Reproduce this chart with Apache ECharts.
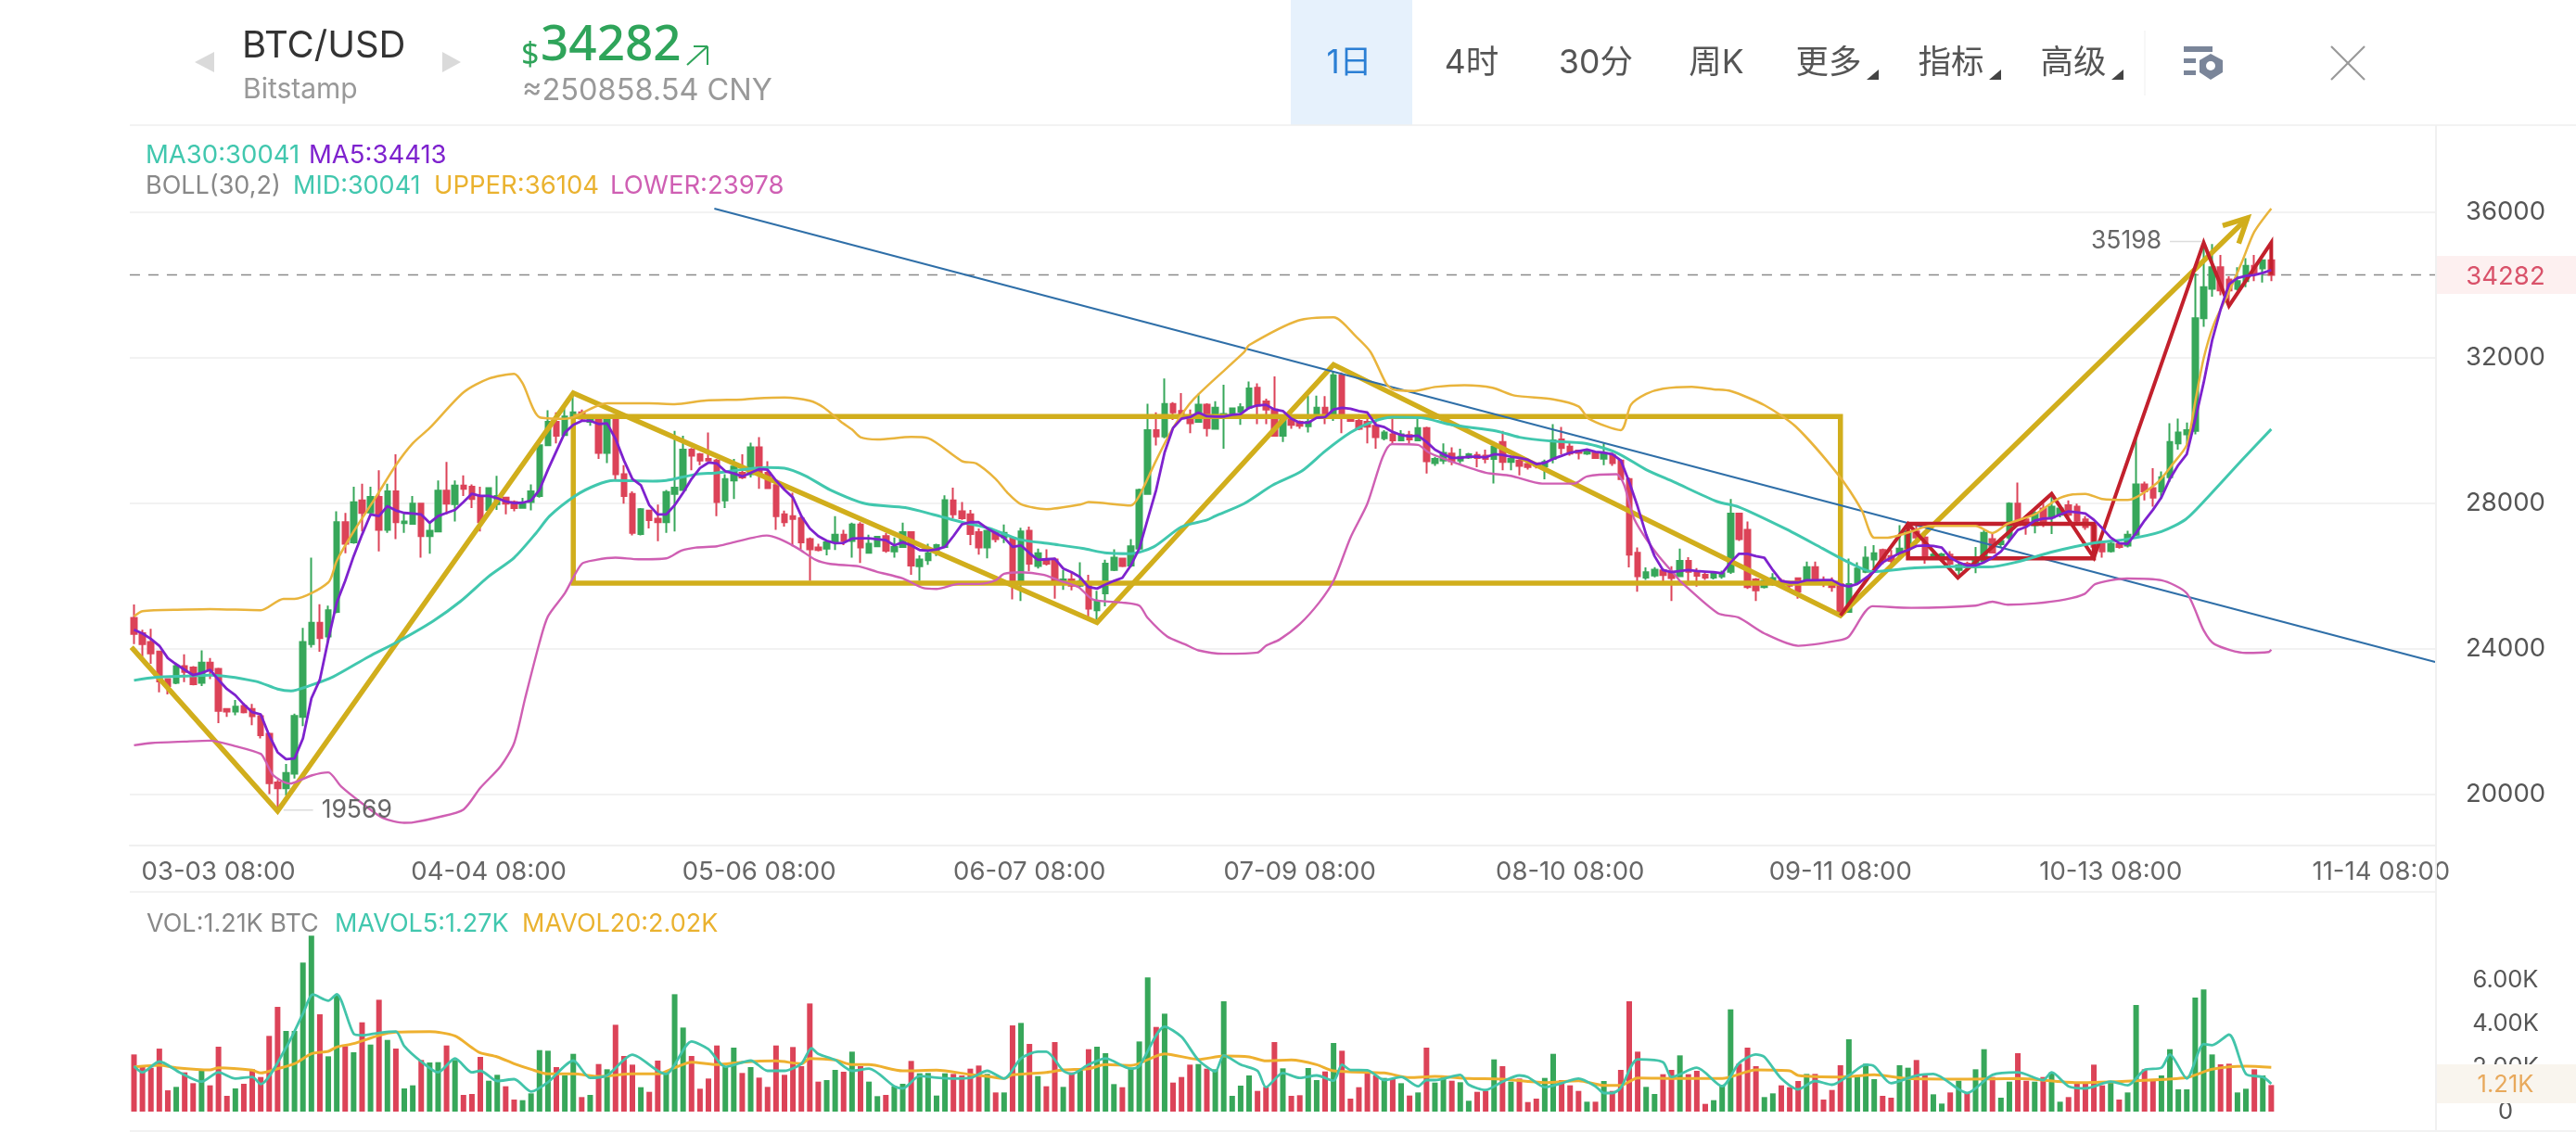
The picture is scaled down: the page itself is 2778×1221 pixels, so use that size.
<!DOCTYPE html>
<html><head><meta charset="utf-8">
<style>html,body{margin:0;padding:0;background:#fff}#c{width:2778px;height:1221px}</style>
<script src="https://cdn.jsdelivr.net/npm/echarts@6/dist/echarts.min.js"></script>
</head><body><div id="c"></div>
<script>
const tickIdx=[10,42,74,106,138,170,202,234,266];
const tickText=['03-03 08:00','04-04 08:00','05-06 08:00','06-07 08:00','07-09 08:00','08-10 08:00','09-11 08:00','10-13 08:00','11-14 08:00'];
const slotCount=273;
const priceTicks=[20000,24000,28000,32000,36000];
const volTicks=[0,2000,4000,6000];

const opens=[24850,24430,24190,23930,23170,23070,23530,23490,23070,23620,23450,22350,22280,22430,22350,22150,21670,20330,20170,20570,22130,24130,24720,24340,25020,27480,26930,28080,27750,28180,27270,28330,27460,27440,27990,27100,27230,28350,27980,28490,28460,28200,27820,27980,28160,28040,27880,28040,28200,29600,30240,29880,30370,30500,30240,30330,29390,30330,28800,28260,27160,27800,27580,27480,28260,28370,29480,29350,29220,29180,28080,28630,28840,28800,29540,28840,28500,27700,27650,27590,27020,26790,26760,26930,27140,26970,27420,26640,26820,27100,26680,26800,27210,26270,26440,26720,26800,28080,27780,27700,27210,26790,27190,27060,27030,25870,27250,26280,26460,26460,25790,25910,25740,25790,25060,25530,26170,26480,26290,26760,28260,30010,29840,30730,30540,30410,30240,30710,30050,30370,30410,30520,30630,31180,30800,30580,29860,30330,30240,30120,30410,30630,30410,31520,30350,30270,30240,30130,29790,29900,29730,29880,29730,30070,29110,29180,29370,29180,29260,29330,29310,29220,29690,29140,29180,29080,29100,29010,29220,29760,29560,29450,29370,29390,29230,29330,29180,28670,26640,25960,26020,26160,26120,26000,26420,26140,26040,25960,25990,26120,27720,27270,25910,25700,25790,25870,25830,25940,25830,26250,25870,25830,25780,25020,25830,26120,26460,26720,26550,26590,26760,27230,27060,26500,26480,26590,26170,26340,26250,26420,27020,26880,27060,27990,27560,27400,27860,27610,27690,27950,27910,27560,27400,26890,26690,26880,26840,27140,28520,28420,28330,28720,29650,29900,29990,33090,33900,34490,34150,33900,34110,34530,34460,34680];
const closes=[24410,24130,23880,23110,22980,23530,23370,23030,23620,23410,22300,22280,22410,22260,22150,21630,20310,20170,20590,22160,24190,24720,24300,25060,27480,26890,28030,27740,28180,27270,28330,27480,27500,27990,27100,27250,28350,27990,28490,28400,28120,27480,28420,28200,27990,27870,27990,28330,29600,30240,29860,30390,30500,30330,30370,29390,30330,28800,28200,27190,27840,27540,27480,28310,28430,29480,29310,29180,29180,28040,28670,29010,28710,29540,28840,28420,27650,27480,27570,26930,26740,26720,26930,27140,26970,27420,26790,26890,27080,26700,26800,27210,26290,26460,26630,26850,28090,27700,27590,27160,26790,27250,27020,27190,25870,27230,26340,26630,26340,25870,25910,25740,25850,25110,25320,26340,26510,26280,26820,28370,30010,29840,30730,30500,30410,30200,30710,30070,30630,30460,30610,30640,31160,30690,30580,29860,30330,30160,30130,30240,30630,30410,31520,30410,30270,30050,30110,29820,29950,29730,29900,29760,30070,29160,29220,29390,29160,29280,29350,29250,29220,29560,29140,29220,29030,29000,29030,29140,29730,29520,29370,29390,29450,29250,29390,29110,28670,26590,26000,26110,26180,26030,25950,26420,26120,26010,25960,26090,26080,27720,27020,25700,25610,25870,25950,25790,25740,25570,26250,25830,25780,25700,25020,25780,26210,26510,26630,26460,26420,26760,27230,27060,26550,26590,26600,26340,26300,26250,26450,27190,26650,26970,27990,27400,27400,27730,27440,27910,27860,27690,27520,27350,26810,26680,26890,26800,27140,28520,28330,28160,28720,29690,29950,30010,33090,33940,34490,33850,33850,34110,34530,34320,34680,34282];
const lows=[24130,23790,23590,22810,22750,23030,23090,23000,22980,23170,21960,22130,22180,22230,21900,21540,20010,19569,19970,20440,21880,24040,23920,24170,24980,26630,26890,27230,27650,26680,27190,27020,27190,27420,26510,26620,27210,27700,27500,28200,27870,27230,27780,27820,27700,27780,27860,27810,28160,29590,29650,29860,30330,30280,30130,29220,29110,28660,27990,27120,27120,27310,26960,27190,27230,28370,28910,29050,29180,27650,27870,28120,28670,28710,28400,28420,27270,27360,26820,26740,25870,26680,26570,26720,26850,26510,26360,26630,26800,26640,26510,26780,26040,25870,26310,26550,26790,27590,27550,26850,26590,26490,26930,26910,25360,25320,26130,26210,26290,25380,25620,25610,25700,24890,24810,25170,26140,26250,26250,26730,28250,29590,29790,30290,30290,29930,30220,29840,30030,29500,30390,30160,30580,30180,30180,29840,29690,30050,30050,29950,30370,30180,30270,29930,30240,30010,29650,29500,29730,29650,29710,29620,29720,28820,29030,29080,29050,29100,29220,28990,29100,28550,28910,28910,28770,28930,28960,28660,29100,29350,29310,29210,29330,29220,29050,29030,28670,26240,25570,25900,25970,25800,25320,25980,25780,25710,25900,25910,25930,26060,26970,25650,25320,25660,25740,25720,25570,25380,25780,25780,25700,25570,24980,24990,25780,26080,26210,26330,26340,26560,26720,26890,26340,26460,26400,26170,26040,26190,26080,26380,26630,26800,26930,27380,27140,27180,27350,27160,27620,27610,27400,27270,26800,26510,26650,26760,26790,27100,28080,27910,28120,28590,29480,29610,29900,32850,33680,33720,33550,33850,33940,34110,34070,34110];
const highs=[25220,24530,24550,23950,23170,23620,23850,23530,23960,23750,23480,22370,22600,22520,22490,22220,21700,20400,20840,22220,24580,26510,25230,25190,27780,27740,28460,28540,28460,28910,28540,29350,27720,28200,28010,27510,28630,29140,28630,28770,28520,28460,28430,28760,28180,28080,28150,28520,29610,30560,30500,30670,31030,30580,30390,30350,30370,30370,29050,28330,27870,27820,27970,28370,29990,29860,29520,29390,29950,29220,28800,29220,29350,29670,29820,29160,28540,27800,28290,27650,27060,26890,26930,27650,27270,27470,27480,27140,27100,27190,27060,27470,27230,26570,26890,26890,28220,28430,28040,27820,27310,27270,27270,27420,27060,27330,27360,26760,26740,26510,26170,26120,26380,26040,25600,26450,26740,26510,27020,28410,30740,30500,31430,30780,31030,30580,31010,30750,30810,31260,30620,30750,31350,31300,30880,31490,30370,30370,30280,30960,30960,30950,31630,31600,30410,30450,30450,30240,30010,30330,30010,29990,30330,30110,29280,29650,29540,29500,29390,29420,29480,29690,29990,29310,29220,29220,29120,29200,30180,30100,29680,29480,29500,29420,29650,29390,29220,28710,26790,26240,26250,26210,26270,26760,26520,26220,26090,26130,26150,28120,27740,27500,25950,25990,26080,25940,25870,25960,26400,26400,25990,25970,25950,26480,26380,26820,26850,26760,26720,27400,27440,27400,27160,26680,26640,26690,26380,26400,26800,27270,27190,27060,28030,28570,27650,27780,27990,28200,27950,28080,27990,27650,27450,26930,26930,26920,27250,29780,28600,28970,28880,30200,30330,30220,34320,35198,35130,34830,34240,34490,34740,34830,34700,34720];

const ma5=[24528,24426,24274,24087,23747,23578,23425,23280,23340,23425,23153,22898,22728,22474,22261,22202,21625,21158,20971,20988,21540,22643,23153,24257,25275,25870,26549,27143,27695,27653,27924,27805,27738,27721,27695,27466,27653,27738,27822,28035,28264,28205,28205,28145,28052,28009,28018,28077,28374,28926,29436,29945,30157,30268,30268,30183,30200,29775,29181,28672,28502,27950,27695,27695,27950,28290,28672,28969,29121,29096,28884,28824,28740,28841,28943,28926,28629,28374,28162,27652,27313,27101,26973,26905,26914,27033,27041,27041,27016,26990,26846,26931,26846,26719,26702,26736,26804,27101,27424,27483,27483,27313,27186,27059,26804,26846,26634,26447,26464,26481,26209,26108,25972,25700,25658,25768,25870,25955,26294,26761,27568,28374,29400,30072,30327,30370,30497,30396,30387,30387,30438,30455,30625,30693,30710,30582,30540,30328,30217,30217,30353,30370,30582,30625,30599,30540,30497,30158,30098,29963,29878,29844,29861,29691,29479,29351,29250,29250,29283,29283,29266,29351,29334,29283,29250,29198,29080,29114,29224,29309,29394,29436,29479,29419,29394,29351,29182,28587,27908,27144,26550,26167,26108,26142,26167,26142,26125,26108,26081,26378,26616,26616,26548,26506,26166,25869,25827,25827,25886,25886,25894,25894,25767,25716,25784,25954,26124,26378,26506,26633,26718,26828,26845,26828,26786,26506,26378,26293,26293,26378,26506,26675,26973,27270,27355,27525,27584,27592,27694,27779,27754,27720,27550,27315,27060,26908,26890,27188,27527,27825,28164,28674,29056,29353,30300,31320,32480,33330,34022,34192,34250,34277,34336,34413];

const upperAt=[0,1,6,9,15,17.7,19,23,24,26,28.6,31,33,35,39,42,45,46,48,51,52,56,61,64,67.7,72,73.6,77,80,81.6,83.7,85,86,88,92,94,98,99.7,102,103.4,105,108,112,113,118,119,121,123,125.5,131.4,132,137.8,142,144.7,146.4,148.2,149,151.6,154,157.5,160.8,163.4,168,171,172.2,176,177.2,179,181,184.4,187,189,193,196.7,201.7,204.5,206,207.6,210.4,212.6,218,220,221.8,225,227.7,229.5,231,233,236,239.4,241.4,243,244,245,246.2,247.9,249.5,251,253];
const upperVal=[24893,25038,25080,25097,25063,25377,25377,25827,26420,27228,28160,29050,29650,30070,31050,31430,31560,31300,30370,30327,30370,30750,30750,30726,30828,30853,30887,30913,30820,30641,30242,30030,29818,29758,29826,29792,29164,29096,28672,28290,27975,27840,27967,28035,27941,28205,29181,30072,30880,32153,32349,33025,33115,32575,32153,31304,31134,31090,31200,31245,31177,30964,30862,30667,30328,30014,30710,31007,31151,31202,31134,31087,30700,30114,28798,27822,27058,27058,27227,27380,27380,27185,27440,27694,28119,28246,28263,28119,28093,28546,29098,29607,30796,31985,32918,33767,34617,35466,36104];
const lowerAt=[0,2,6,9,12,15,15.6,16.5,18.4,21,23,24.5,27,29.5,32,33,36,39,41,43.4,45,46.3,48,49,51,53,54.7,57,59.7,63,64.8,66.5,69,70.7,74.9,76.5,78.6,80.7,82.4,85.8,87.9,91,93.4,95,97.6,100,102,103,105,107.6,109.7,111.8,113.5,116.9,119,120,122.3,124.4,126,129,133,134,135.6,138,140.3,142,144,146,147.8,148.9,152,153.3,156.6,160,163,166.7,170.5,172,175.5,176.4,177.6,180.2,182.7,183,187.5,189.9,193,197,201.7,203,205.8,210.4,218,220,221.8,225,228.6,230.9,232.2,235.9,240,243,245,246.3,250,252.7,253];
const lowerVal=[21353,21413,21455,21480,21328,21115,20903,20521,20300,20521,20606,20224,19757,19350,19222,19231,19375,19587,20182,20776,21413,22643,24172,24893,25530,26337,26447,26507,26464,26490,26702,26787,26821,26914,27118,27016,26761,26447,26337,26269,26125,25938,25675,25649,25785,25785,25887,26065,26108,26040,25870,25700,25360,25276,25190,24851,24342,24129,23960,23867,23900,24088,24257,24682,25276,25870,27059,27993,29266,29631,29606,29394,29097,28842,28757,28545,28545,28740,28800,28502,27568,26635,25955,25869,24980,24867,24426,24086,24230,24341,25173,25130,25190,25300,25215,25250,25360,25512,25784,25937,25886,25530,24511,24129,23891,23916,23978];
const midAt=[0,2.6,6,9,14.4,17,18.6,20.7,23.6,27.8,31,35.4,38.7,42,45,47.6,49.2,52.2,54.7,56.8,61.4,63,66.5,69,71.9,74.9,77,79.5,82.4,86.6,91.3,94.6,98,101.3,104.7,108.5,112.3,115.2,118,120.7,124,127,128,131.4,134.8,138.2,141,144,146.6,149,152.4,156,161.3,164,167.6,171.8,175.5,179,182.3,187.4,189.9,195.4,199.9,203,205.8,210.8,215.8,219.5,222.7,227.2,231.8,235.9,240,242.9,245.8,249.5,253];
const midVal=[23136,23221,23255,23280,23110,22898,22847,22983,23238,23790,24172,24766,25318,25997,26507,27186,27653,28204,28502,28629,28612,28629,28799,28841,28926,28986,28969,28756,28374,27992,27882,27695,27483,27313,27016,26889,26761,26634,26617,26804,27356,27542,27653,27993,28502,28884,29436,29946,30243,30370,30353,30158,29988,29818,29716,29648,29394,28927,28587,28050,27907,27312,26760,26378,26124,26226,26268,26251,26378,26675,26905,27015,27227,27567,28249,29183,30041];

const vols=[2605,2040,2000,2870,970,1126,1788,1295,1858,1197,2957,718,1056,1267,1929,1577,3450,4773,3675,3675,6787,8012,4435,2520,5308,2985,2703,4069,3055,5097,3267,2872,1056,1197,2351,2239,2253,3013,2351,760,803,2492,1408,1676,1155,549,521,831,2802,2774,2028,1647,2633,662,760,2168,1929,3957,2534,2140,1112,901,2323,1816,5350,3830,2534,1042,1507,3013,2042,2915,1760,2028,1549,1126,3013,1676,2943,2070,4928,1366,1436,1901,1816,2732,2070,1366,704,760,1155,1267,2309,1746,1760,732,1746,1718,1647,1957,2098,1718,873,873,3928,4041,3084,1619,1155,3168,1126,1788,1929,2844,2957,2661,1253,1112,2000,3196,6111,3858,4463,1323,1577,2140,2168,1957,1929,5027,718,1183,1647,943,1126,3168,1971,718,746,1985,1436,1830,3126,2774,591,1112,1760,1647,1535,1478,1295,732,873,2915,1323,1577,1408,1338,493,901,943,2380,2070,1366,1507,436,591,1535,2633,1436,1197,943,451,451,1394,943,1901,5027,2732,1126,803,1704,1901,2563,1704,1859,352,521,1225,4660,2182,2915,2070,662,831,1197,1112,1394,1718,1718,549,986,2112,3295,1647,2182,1478,718,634,2112,2000,2351,1647,788,366,873,1408,873,1929,2844,1577,634,1366,2661,1408,1366,1577,1788,451,662,1295,1267,2140,1197,1366,549,873,4858,1929,1478,1647,2844,1014,1014,5196,5562,2605,2154,2182,873,1042,1929,1647,1210];
const mavol5At=[0,1,3,5.4,8,10,12,14,15,18,20,21.2,23,24,26,27,29,31,32,34,36,38,40,41,43,45,47,49,52,54,56,59,62,63,66,68,70,73,75,77,79,80.2,81,83,85,87,90,91,93,95,97,99,101,103,105,107,108,110,111,113,115,118,119,122,124,126,128,129,131,133,134,136,138,140,142,143,144,146,148,150,152,153,154,157,158,160,162,164,165,167,169,171,173,174,175,176,178,181,182,185,188,190,192,193,195,197,199,201,203,205,206,208,211,213,216,217,220,223,226,227,229,231,234,236,238,240,241,243,245,246,248,250,252,253];
const mavol5Val=[2070,1788,2281,1788,1366,1788,1507,1577,1253,2915,4463,5336,5055,5350,3548,3478,3590,3647,2985,2281,1788,2422,1788,1859,1394,1478,915,1338,2323,1535,1647,2591,1859,1718,3196,2844,2042,2323,1859,1859,2182,2886,2633,2351,1859,1957,1155,1056,1619,1549,1507,1535,1859,1507,2422,2732,2732,1859,1718,2140,2422,1957,2070,3872,3407,2351,1830,2563,2140,1859,1112,1760,1535,1647,1408,2140,1900,1887,1436,1577,1155,1436,1436,1675,1225,986,1366,1647,1577,1112,1295,1507,1155,845,845,1084,2380,2253,1577,2000,1155,2210,2605,2492,1507,1014,1394,1225,1647,2140,2070,1295,1647,1718,1014,845,1675,1788,1436,1788,1155,1056,1366,1197,1900,2000,2605,1507,3083,3027,3506,1718,1577,1270];
const mavol20At=[0,3,5,9,10,14,15,17,19,21,23,24,26,29,31,35,38,40,41,43,45,47,49,52,55,59,62,64,66,69,72,76,79,80,83,85,87,91,95,99,101,103,104,108,110,113,115,118,122,126,129,132,134,137,140,142,148,151,154,158,162,167,171,174,176,178,183,188,192,196,197,202,206,210,217,223,230,237,243,246,250,253];
const mavol20Val=[2042,2112,1999,1901,2000,1887,1760,1957,2182,2633,2746,2943,3098,3478,3619,3647,3450,2915,2675,2492,2182,1929,1718,1718,1605,1718,1718,2000,2253,2140,2253,2309,2182,2422,2351,2140,2140,1859,1887,1690,1605,1507,1675,1788,1900,1957,2140,2098,2633,2380,2534,2492,2309,2351,2140,1859,1760,1549,1605,1507,1478,1323,1408,1197,1197,1535,1507,1507,1900,1859,1647,1577,1675,1507,1478,1507,1323,1408,1549,1929,2070,2020];

const goldZig=[[-0.3,24045],[17,19545],[52,31032],[114,24724],[142,31813],[202,24918],[250.2,35847]];
const goldArrow=[[247.25,35635],[250.2,35847],[249.15,35143]];
const goldBox=[[52,30386],[202,30386],[202,25810],[52,25810],[52,30386]];
const redZig=[[202,24918],[210,27440],[215.9,25954],[227,28263],[232,26506],[245,35168],[248,33428],[253,35168],[253,34282]];
const redBox=[[210,27440],[232,27440],[232,26489],[210,26489],[210,27440]];
const blueTrend=[[68.7,36102],[272.4,23642]];
const lastLine=[[-0.5,34282],[272.5,34282]];

const startDate=Date.UTC(2023,1,21);
const pad=n=>String(n).padStart(2,'0');
const cats=Array.from({length:slotCount},(_,i)=>{const d=new Date(startDate+i*864e5);return pad(d.getUTCMonth()+1)+'-'+pad(d.getUTCDate())+' 08:00';});
const zip=(a,b)=>a.map((x,i)=>[x,b[i]]);
const UP='#37a75a',DOWN='#dc4358',GOLD='#d1ae1c',RED='#c2202c',TEAL='#41c7ae',PURPLE='#7e22ce',ORANGE='#e9b43c',PINK='#cf5fb3';
const FONT='Inter,"Noto Sans CJK SC",sans-serif';
const NUMFONT='"Noto Sans",sans-serif';

function over(name,data,color,width,extra){return Object.assign({name,type:'line',xAxisIndex:1,yAxisIndex:0,data,symbol:'none',silent:true,clip:false,animation:false,z:3,
 lineStyle:{color,width,join:'miter',cap:'butt'}},extra||{});}
function ind(name,at,val,color,width,idx){return {name,type:'line',xAxisIndex:idx?3:1,yAxisIndex:idx?1:0,data:zip(at,val),symbol:'none',smooth:0.25,silent:true,clip:false,z:5,
 lineStyle:{color,width}};}
function note(name,from,to,text,pos){return {name,type:'line',xAxisIndex:1,yAxisIndex:0,symbol:'circle',symbolSize:0.01,silent:true,z:6,clip:false,
 lineStyle:{color:'#dcdcdc',width:1.5},itemStyle:{color:'#dcdcdc'},
 data:[{value:from},{value:to,label:{show:true,position:pos,distance:9,formatter:text,color:'#666',fontSize:26.5,fontFamily:FONT,padding:[8,0,0,0]}}]};}

const option={
 animation:false,backgroundColor:'#fff',
 grid:[{left:139.95,right:151,top:135,height:777},{left:139.95,right:151,top:1000,height:199}],
 xAxis:[
  {type:'category',gridIndex:0,data:cats,boundaryGap:true,axisTick:{show:false},splitLine:{show:false},
   axisLine:{lineStyle:{color:'#f0f0f0',width:2}},
   axisLabel:{interval:i=>tickIdx.includes(i),formatter:(v,i)=>tickText[tickIdx.indexOf(i)]||v,color:'#666',fontSize:27.5,fontFamily:FONT,margin:15,hideOverlap:false}},
  {type:'value',gridIndex:0,min:-0.5,max:slotCount-0.5,show:false},
  {type:'category',gridIndex:1,data:cats,boundaryGap:true,axisTick:{show:false},axisLine:{show:false},axisLabel:{show:false},splitLine:{show:false}},
  {type:'value',gridIndex:1,min:-0.5,max:slotCount-0.5,show:false}
 ],
 yAxis:[
  {type:'value',gridIndex:0,position:'right',min:18597,max:38395,axisLine:{show:false},
   axisTick:{show:false,customValues:priceTicks},splitLine:{show:true,lineStyle:{color:'#f2f2f2',width:2}},
   axisLabel:{customValues:priceTicks,formatter:v=>String(v),color:'#555',fontSize:27.5,fontFamily:FONT,align:'center',margin:75,padding:[7,0,0,0]}},
  {type:'value',gridIndex:1,position:'right',min:0,max:8408,axisLine:{show:false},
   axisTick:{show:false,customValues:volTicks},splitLine:{show:false},
   axisLabel:{customValues:volTicks,color:'#555',fontSize:25.5,fontFamily:FONT,align:'center',margin:75,padding:[4,0,0,0],
    formatter:v=>v===0?'0':(v/1000).toFixed(2)+'K'}}
 ],
 series:[
  {name:'K',type:'candlestick',xAxisIndex:0,yAxisIndex:0,barWidth:6,silent:true,z:2,
   data:opens.map((o,i)=>[o,closes[i],lows[i],highs[i]]),
   itemStyle:{color:UP,color0:DOWN,borderColor:UP,borderColor0:DOWN,borderWidth:2}},
  over('last',lastLine,'#8a8a8a',1.5,{lineStyle:{color:'#8a8a8a',width:1.5,type:[11,9]},z:1}),
  over('goldBox',goldBox,GOLD,5.5),
  over('goldZig',goldZig,GOLD,5.5),
  over('goldArrow',goldArrow,GOLD,5.5),
  over('blue',blueTrend,'#2f6fa8',2),
  over('redBox',redBox,RED,4.5),
  over('redZig',redZig,RED,4),
  ind('UPPER',upperAt,upperVal,ORANGE,2.5),
  ind('LOWER',lowerAt,lowerVal,PINK,2.4),
  ind('MID',midAt,midVal,TEAL,3),
  {name:'MA5',type:'line',xAxisIndex:0,yAxisIndex:0,data:ma5,symbol:'none',silent:true,z:6,lineStyle:{color:PURPLE,width:2.8}},
  note('low',[17.7,19569],[21.2,19569],'19569','right'),
  note('high',[244.8,35198],[241,35198],'35198','left'),
  {name:'VOL',type:'bar',xAxisIndex:2,yAxisIndex:1,barWidth:6,silent:true,z:2,
   data:vols.map((v,i)=>({value:v,itemStyle:{color:closes[i]>=opens[i]?UP:DOWN}}))},
  ind('MAVOL20',mavol20At,mavol20Val,'#eeb02f',3,1),
  ind('MAVOL5',mavol5At,mavol5Val,'#42c4aa',2.8,1)
 ],
 graphic:[]
};

const g=[];
const T=(x,y,text,size,fill,align,weight,font)=>g.push({type:'text',z:100,silent:true,style:{x,y,text,fill,align:align||'left',verticalAlign:'middle',font:(weight||'normal')+' '+size+'px '+(font||FONT)}});
const R=(x,y,w,h,fill,z)=>g.push({type:'rect',z:z||50,silent:true,shape:{x,y,width:w,height:h},style:{fill}});
const L=(x1,y1,x2,y2,stroke,w)=>g.push({type:'line',z:60,silent:true,shape:{x1,y1,x2,y2},style:{stroke,lineWidth:w}});
const P=(pts,fill)=>g.push({type:'polygon',z:60,silent:true,shape:{points:pts},style:{fill}});
// header
L(140,135,2778,135,'#efefef',1.5);
L(140,962,2627,962,'#f2f2f2',2);
L(2627,135,2627,1221,'#f0f0f0',2);
L(140,1220,2778,1220,'#f2f2f2',2);
R(1392,0,131,135,'#e6f1fc');
T(261,50,'BTC/USD',40,'#333');
T(262,97,'Bitstamp',30,'#999');
P([[231,56],[231,78],[210,67]],'#dadada');
P([[477,56],[477,78],[497,67]],'#dadada');
T(562,60,'$',34,'#2fa45a','left','normal',NUMFONT);
T(583,50,'34282',53,'#2fa45a','left','500',NUMFONT);
L(741,70,763,50,'#2fa45a',2);L(748,50,763,50,'#2fa45a',2);L(763,50,763,70,'#2fa45a',2);
T(563,98,'≈250858.54 CNY',32.5,'#999');
T(1455,68,'1日',35,'#2b7fd4','center');
T(1587,68,'4时',35.5,'#555','center');
T(1721,68,'30分',35.5,'#555','center');
T(1851,68,'周K',35.5,'#555','center');
T(1972,68,'更多',35.5,'#555','center');
T(2104,68,'指标',35.5,'#555','center');
T(2236,68,'高级',35.5,'#555','center');
[2013,2145,2277].forEach(x=>P([[x+13,75],[x+13,86],[x,86]],'#444'));
L(2313,33,2313,103,'#f4f4f4',1.5);
R(2355,50,31,6,'#7a8599',60);R(2355,63,13,5,'#7a8599',60);R(2355,76,13,5,'#7a8599',60);
P([[2384,58],[2397,65],[2397,78],[2384,86],[2372,78],[2372,65]],'#7a8599');
g.push({type:'circle',z:61,silent:true,shape:{cx:2384,cy:71,r:5},style:{fill:'#fff'}});
L(2514,50,2550,86,'#999',2.2);L(2550,50,2514,86,'#999',2.2);
// legends
T(157,168,'MA30:30041',27.5,TEAL);T(333,168,'MA5:34413',27.5,PURPLE);
T(157,201,'BOLL(30,2)',27,'#888');T(316,201,'MID:30041',27,TEAL);T(468,201,'UPPER:36104',27.5,'#eab22f');T(658,201,'LOWER:23978',27.5,PINK);
T(158,997,'VOL:1.21K BTC',27,'#888');T(361,997,'MAVOL5:1.27K',27,TEAL);T(563,997,'MAVOL20:2.02K',27,'#eab22f');
// value tags
R(2628,276,150,41,'#fdf0f0',90);T(2702,299,'34282',27.5,'#d9526a','center');
R(2628,1148,150,42,'#f9f5ee',90);T(2702,1170,'1.21K',25.5,'#e8a95c','center');
option.graphic={elements:g};

const chart=echarts.init(document.getElementById('c'),null,{renderer:'canvas',width:2778,height:1221});
chart.setOption(option);
</script></body></html>
